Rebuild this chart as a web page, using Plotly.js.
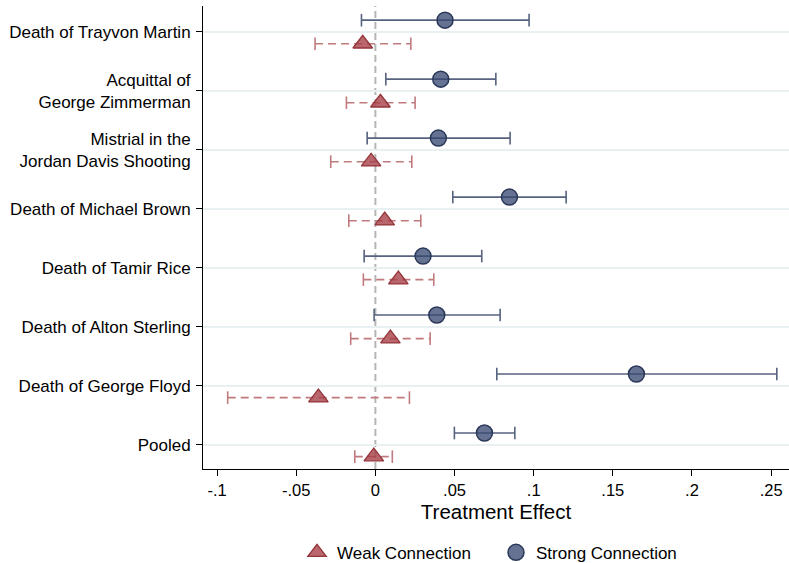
<!DOCTYPE html>
<html>
<head>
<meta charset="utf-8">
<script src="https://cdn.plot.ly/plotly-3.0.1.min.js"></script>
<style>html,body{margin:0;padding:0;background:#fff;}#chart{width:789px;height:563px;}</style>
</head>
<body>
<div id="chart"></div>
<script>
// Categories (top to bottom)
var categories = [
  "Death of Trayvon Martin",
  "Acquittal of<br>George Zimmerman",
  "Mistrial in the<br>Jordan Davis Shooting",
  "Death of Michael Brown",
  "Death of Tamir Rice",
  "Death of Alton Sterling",
  "Death of George Floyd",
  "Pooled"
];
// Strong connection estimates and 95% CI
var strongEst = [0.0440, 0.0413, 0.0398, 0.0847, 0.0301, 0.0388, 0.1649, 0.0689];
var strongLo  = [-0.0088, 0.0066, -0.0052, 0.0489, -0.0071, -0.0008, 0.0767, 0.0499];
var strongHi  = [0.0971, 0.0761, 0.0851, 0.1205, 0.0672, 0.0788, 0.2536, 0.0881];
// Weak connection estimates and 95% CI
var weakEst = [-0.0080, 0.0032, -0.0027, 0.0059, 0.0145, 0.0095, -0.0360, -0.0010];
var weakLo  = [-0.0381, -0.0183, -0.0282, -0.0168, -0.0076, -0.0156, -0.0933, -0.0130];
var weakHi  = [0.0224, 0.0251, 0.0230, 0.0287, 0.0369, 0.0346, 0.0215, 0.0107];
// X tick labels
var xTickVals = [-0.1, -0.05, 0, 0.05, 0.1, 0.15, 0.2, 0.25];
var xTickText = ["-.1", "-.05", "0", ".05", ".1", ".15", ".2", ".25"];
var seriesNames = ["Weak Connection", "Strong Connection"];

var n = categories.length;
var pos = categories.map(function(c, i){ return n - 1 - i; });
var off = 0.2;
var yStrong = pos.map(function(p){ return p + off; });
var yWeak = pos.map(function(p){ return p - off; });

function segX(lo, hi){ var a=[]; for (var i=0;i<lo.length;i++){ a.push(lo[i], hi[i], null);} return a; }
function segY(y){ var a=[]; for (var i=0;i<y.length;i++){ a.push(y[i], y[i], null);} return a; }

var strongLine = '#56627f';
var weakLine = '#c07a7e';

var traces = [
  { x: segX(strongLo, strongHi), y: segY(yStrong), mode: 'lines', type: 'scatter',
    line: {color: strongLine, width: 1.6}, showlegend: false, hoverinfo: 'skip' },
  { x: strongLo.concat(strongHi), y: yStrong.concat(yStrong), mode: 'markers', type: 'scatter',
    marker: {symbol: 'line-ns', size: 9, line: {color: strongLine, width: 1.6}}, showlegend: false, hoverinfo: 'skip' },
  { x: segX(weakLo, weakHi), y: segY(yWeak), mode: 'lines', type: 'scatter',
    line: {color: weakLine, width: 1.6, dash: '8px,5px'}, showlegend: false, hoverinfo: 'skip' },
  { x: weakLo.concat(weakHi), y: yWeak.concat(yWeak), mode: 'markers', type: 'scatter',
    marker: {symbol: 'line-ns', size: 9, line: {color: weakLine, width: 1.6}}, showlegend: false, hoverinfo: 'skip' },
  { x: weakEst, y: yWeak, mode: 'markers', type: 'scatter', name: seriesNames[0],
    marker: {symbol: 'triangle-up', size: 17, color: 'rgba(165,60,68,0.78)', line: {color: '#94343b', width: 1.3}} },
  { x: strongEst, y: yStrong, mode: 'markers', type: 'scatter', name: seriesNames[1],
    marker: {symbol: 'circle', size: 16, color: 'rgba(52,70,112,0.76)', line: {color: '#2a3858', width: 1.5}} }
];

var font = 'Liberation Sans, Arial, Helvetica, sans-serif';
var layout = {
  width: 789, height: 563,
  margin: {l: 203, r: 0, t: 6, b: 94, autoexpand: false},
  paper_bgcolor: '#fff', plot_bgcolor: '#fff',
  font: {family: font, size: 17, color: '#000'},
  xaxis: {
    range: [-0.1089, 0.2613], tickvals: xTickVals, ticktext: xTickText,
    showgrid: false, zeroline: false, showline: true, linecolor: '#000', linewidth: 1,
    ticks: 'outside', ticklen: 6, tickwidth: 1, tickcolor: '#000',
    tickfont: {family: font, size: 16.5, color: '#000'},
    title: {text: 'Treatment Effect', font: {family: font, size: 20.5, color: '#000'}, standoff: 6},
    automargin: false, fixedrange: true
  },
  yaxis: {
    range: [-0.41, 7.44], tickvals: pos, ticktext: categories,
    showgrid: true, gridcolor: '#e8f0f2', gridwidth: 1.5, zeroline: false,
    showline: true, linecolor: '#000', linewidth: 1,
    ticks: 'outside', ticklen: 6, tickwidth: 1, tickcolor: '#000', ticklabelstandoff: 2,
    tickfont: {family: font, size: 17, color: '#000'},
    automargin: false, fixedrange: true
  },
  shapes: [{type: 'line', xref: 'x', yref: 'paper', x0: 0, x1: 0, y0: 0, y1: 1,
            line: {color: '#b5b5b5', width: 2, dash: '7px,4px'}, layer: 'below'}],
  showlegend: true,
  legend: {orientation: 'h', x: 0.5, xanchor: 'center', y: -0.181, yanchor: 'middle',
           font: {family: font, size: 17, color: '#000'}, itemwidth: 30, traceorder: 'normal',
           entrywidth: 154, entrywidthmode: 'pixels'}
};

Plotly.newPlot('chart', traces, layout, {staticPlot: true, displayModeBar: false});
</script>
</body>
</html>
